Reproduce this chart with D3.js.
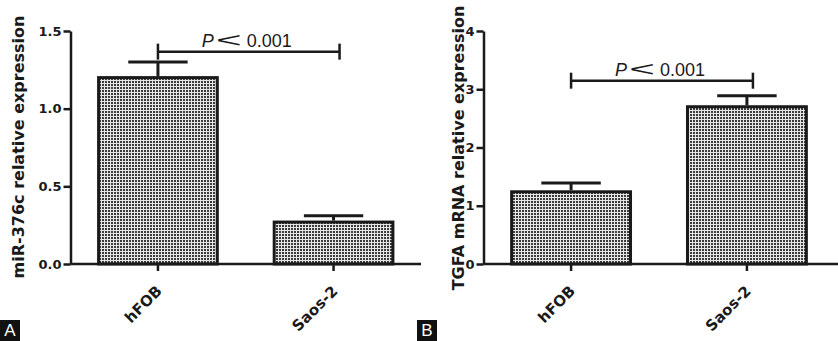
<!DOCTYPE html>
<html><head><meta charset="utf-8">
<script src="https://cdn.jsdelivr.net/npm/d3@7"></script>
<style>
html,body{margin:0;padding:0;background:#fff;}
svg{display:block;}
</style></head>
<body>
<svg id="chart" width="838" height="341"></svg>
<script>
// ---- data ----
const categories = ["hFOB", "Saos-2"];
const mirMean = [1.20, 0.27];
const mirErr = [0.10, 0.04];
const tgfaMean = [1.24, 2.70];
const tgfaErr = [0.15, 0.19];
const mirTicks = [0, 0.5, 1.0, 1.5];
const tgfaTicks = [0, 1, 2, 3, 4];
const mirTitle = "miR-376c relative expression";
const tgfaTitle = "TGFA mRNA relative expression";
const sigText = ["P", "<", "0.001"];
const mirSigLevel = 1.367;
const tgfaSigLevel = 3.147;
const panelLabels = ["A", "B"];

const svg = d3.select("#chart");
const defs = svg.append("defs");
const pat = defs.append("pattern").attr("id", "checker")
  .attr("patternUnits", "userSpaceOnUse").attr("width", 3).attr("height", 3);
pat.append("rect").attr("width", 3).attr("height", 3).attr("fill", "#e6e6e6");
pat.append("rect").attr("x", 0).attr("y", 0).attr("width", 2).attr("height", 2).attr("fill", "#3c3c3c");

const ink = "#1a1a1a";
const tickFont = "'DejaVu Sans', sans-serif";

function panel(cfg) {
  const g = svg.append("g");
  const x = d3.scaleBand().domain(categories).range([cfg.x0, cfg.x1])
    .paddingInner(0.324).paddingOuter(0.16);
  const y = d3.scaleLinear().domain([0, cfg.ymax]).range([264, 31]);

  // bars
  g.selectAll("rect.bar").data(categories).join("rect")
    .attr("class", "bar")
    .attr("x", d => x(d)).attr("width", x.bandwidth())
    .attr("y", (d, i) => y(cfg.mean[i]))
    .attr("height", (d, i) => y(0) - y(cfg.mean[i]))
    .attr("fill", "url(#checker)").attr("stroke", ink).attr("stroke-width", 3);

  // error bars
  const cx = d => x(d) + x.bandwidth() / 2;
  g.selectAll("line.ev").data(categories).join("line")
    .attr("x1", cx).attr("x2", cx)
    .attr("y1", (d, i) => y(cfg.mean[i]) - 1.5)
    .attr("y2", (d, i) => y(cfg.mean[i] + cfg.err[i]))
    .attr("stroke", ink).attr("stroke-width", 3);
  g.selectAll("line.ec").data(categories).join("line")
    .attr("x1", d => cx(d) - x.bandwidth() / 4).attr("x2", d => cx(d) + x.bandwidth() / 4)
    .attr("y1", (d, i) => y(cfg.mean[i] + cfg.err[i]))
    .attr("y2", (d, i) => y(cfg.mean[i] + cfg.err[i]))
    .attr("stroke", ink).attr("stroke-width", 3);

  // y axis
  const ya = g.append("g").attr("transform", `translate(${cfg.x0},0)`)
    .call(d3.axisLeft(y).tickValues(cfg.ticks).tickFormat(cfg.fmt).tickSize(7).tickSizeOuter(0).tickPadding(2));
  ya.select(".domain").attr("stroke", ink).attr("stroke-width", 2.5);
  ya.selectAll(".tick line").attr("stroke", ink).attr("stroke-width", 2.5);
  ya.selectAll(".tick text").attr("font-family", tickFont).attr("font-weight", "bold")
    .attr("font-size", 13).attr("fill", ink);

  // x axis
  const xa = g.append("g").attr("transform", "translate(0,264)")
    .call(d3.axisBottom(x).tickSize(7).tickSizeOuter(0).tickFormat(""));
  xa.select(".domain").remove();
  xa.selectAll(".tick line").attr("stroke", ink).attr("stroke-width", 2.5);
  g.append("line").attr("x1", cfg.x0).attr("x2", cfg.axisEnd).attr("y1", y(0)).attr("y2", y(0))
    .attr("stroke", ink).attr("stroke-width", 2.5);

  g.selectAll("text.xl").data(categories).join("text")
    .attr("class", "xl")
    .attr("transform", d => `translate(${cx(d) + 5},292) rotate(-45)`)
    .attr("text-anchor", "end")
    .attr("font-family", tickFont).attr("font-weight", "bold").attr("font-size", 15)
    .attr("fill", ink).text(d => d);

  // y title
  g.append("text")
    .attr("transform", `translate(${cfg.titleX},${cfg.titleY}) rotate(-90)`)
    .attr("text-anchor", "middle")
    .attr("font-family", tickFont).attr("font-weight", "bold").attr("font-size", 16)
    .attr("fill", ink).text(cfg.title);

  // significance bracket
  const lx = cx(categories[0]), rx = cx(categories[1]) + 6, ly = y(cfg.sig);
  const br = g.append("g").attr("stroke", ink).attr("stroke-width", 2.5);
  br.append("line").attr("x1", lx).attr("x2", rx).attr("y1", ly).attr("y2", ly);
  br.append("line").attr("x1", lx).attr("x2", lx).attr("y1", ly - 8).attr("y2", ly + 8);
  br.append("line").attr("x1", rx).attr("x2", rx).attr("y1", ly - 8).attr("y2", ly + 8);

  const mid = (lx + rx) / 2, base = ly - 5;
  g.append("text").attr("x", mid - 47).attr("y", base)
    .attr("font-family", "'Liberation Sans', Arial, sans-serif").attr("font-style", "italic")
    .attr("font-size", 18).attr("fill", ink).text(sigText[0]);
  g.append("text").attr("transform", `translate(${mid - 20},${base}) scale(2.2,1)`)
    .attr("text-anchor", "middle")
    .attr("font-family", "'Liberation Sans', Arial, sans-serif")
    .attr("font-size", 20).attr("fill", ink).text(sigText[1]);
  g.append("text").attr("x", mid - 2).attr("y", base)
    .attr("font-family", "'Liberation Sans', Arial, sans-serif")
    .attr("font-size", 18).attr("fill", ink).text(sigText[2]);

  // panel label
  g.append("rect").attr("x", cfg.labelX).attr("y", 320).attr("width", 20).attr("height", 21).attr("fill", "#111");
  g.append("text").attr("x", cfg.labelX + 10).attr("y", 336).attr("text-anchor", "middle")
    .attr("font-family", "'Liberation Sans', Arial, sans-serif").attr("font-size", 17)
    .attr("fill", "#fff").text(cfg.label);
}

panel({x0: 70.5, x1: 421, axisEnd: 421, ymax: 1.5, ticks: mirTicks, fmt: d3.format(".1f"),
  mean: mirMean, err: mirErr, title: mirTitle, titleX: 23.5, titleY: 147, sig: mirSigLevel,
  label: panelLabels[0], labelX: 0});
panel({x0: 483.5, x1: 834.5, axisEnd: 838, ymax: 4, ticks: tgfaTicks, fmt: d3.format("d"),
  mean: tgfaMean, err: tgfaErr, title: tgfaTitle, titleX: 464, titleY: 148, sig: tgfaSigLevel,
  label: panelLabels[1], labelX: 417});
</script>
</body></html>
